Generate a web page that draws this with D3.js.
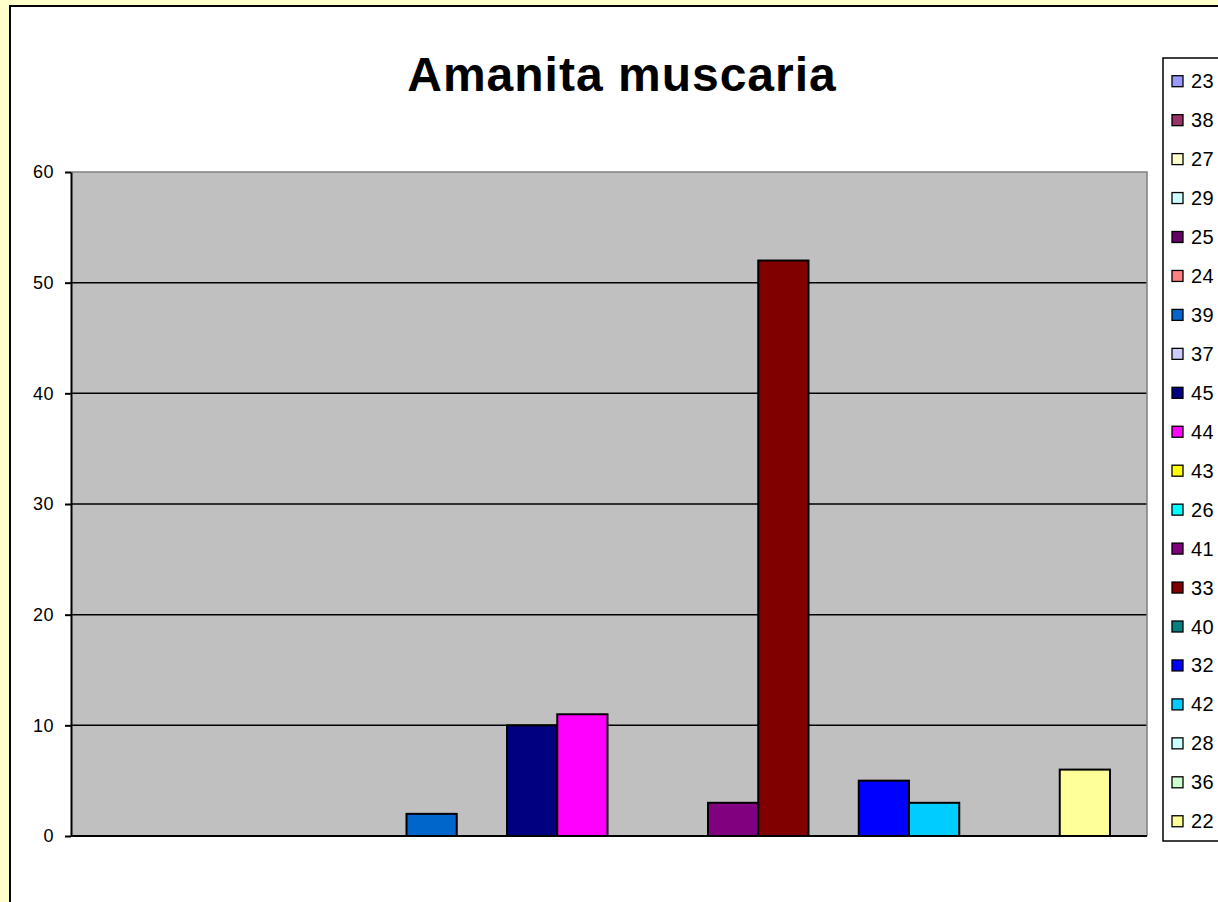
<!DOCTYPE html>
<html><head><meta charset="utf-8">
<script src="https://cdn.jsdelivr.net/npm/d3@7"></script>
<style>html,body{margin:0;padding:0;background:#FFFFCC;}svg{display:block;}</style>
</head><body>
<script>
const title = "Amanita muscaria";
const series = ["23","38","27","29","25","24","39","37","45","44","43","26","41","33","40","32","42","28","36","22"];
const values = [0,0,0,0,0,0,2,0,10,11,0,0,3,52,0,5,3,0,0,6];
const colors = ["#9999FF","#993366","#FFFFCC","#CCFFFF","#660066","#FF8080","#0066CC","#CCCCFF","#000080","#FF00FF","#FFFF00","#00FFFF","#800080","#800000","#008080","#0000FF","#00CCFF","#CCFFFF","#CCFFCC","#FFFF99"];
const yTicks = [0,10,20,30,40,50,60];

const W = 1218, H = 902;
const FONT = "Arial, 'Liberation Sans', sans-serif";
const svg = d3.select("body").append("svg").attr("width", W).attr("height", H);
svg.append("rect").attr("width", W).attr("height", H).attr("fill", "#FFFFCC");
svg.append("rect").attr("x", 10).attr("y", 6).attr("width", 1400).attr("height", 1200)
  .attr("fill", "#fff").attr("stroke", "#000").attr("stroke-width", 2);

const pl = 71, pr = 1147, pt = 172, pb = 836;
const x = d3.scaleBand().domain(series).range([pl + 34, pr - 37]).paddingInner(0).paddingOuter(0);
const y = d3.scaleLinear().domain([0, 60]).range([pb, pt]);

svg.append("rect").attr("x", pl).attr("y", pt).attr("width", pr - pl).attr("height", pb - pt).attr("fill", "#C0C0C0");
// gridlines
svg.append("g").selectAll("line").data(yTicks.filter(t => t > 0 && t < 60)).join("line")
  .attr("x1", pl).attr("x2", pr).attr("y1", d => y(d)).attr("y2", d => y(d))
  .attr("stroke", "#000").attr("stroke-width", 1.5);
// plot border top/right
svg.append("path").attr("d", `M${pl},${pt}H${pr}V${pb}`).attr("fill", "none").attr("stroke", "#808080").attr("stroke-width", 1.5);

// bars
svg.append("g").selectAll("rect").data(series.map((s, i) => ({s, v: values[i], c: colors[i]})).filter(d => d.v > 0)).join("rect")
  .attr("x", d => x(d.s)).attr("width", x.bandwidth())
  .attr("y", d => y(d.v)).attr("height", d => y(0) - y(d.v))
  .attr("fill", d => d.c).attr("stroke", "#000").attr("stroke-width", 2);

// y axis
const yAxis = d3.axisLeft(y).tickValues(yTicks).tickSize(6).tickPadding(11).tickSizeOuter(0);
const ga = svg.append("g").attr("transform", `translate(${pl},0)`).call(yAxis);
ga.select(".domain").attr("stroke", "#000").attr("stroke-width", 2);
ga.selectAll(".tick line").attr("stroke", "#000").attr("stroke-width", 2);
ga.selectAll(".tick text").attr("font-family", FONT).attr("font-size", 18).attr("letter-spacing", 0.5).attr("fill", "#000");
// x axis baseline
svg.append("line").attr("x1", pl).attr("x2", pr).attr("y1", y(0)).attr("y2", y(0)).attr("stroke", "#000").attr("stroke-width", 2);

// title
svg.append("text").attr("x", 622).attr("y", 91).attr("text-anchor", "middle")
  .attr("font-family", FONT).attr("font-weight", "bold")
  .attr("font-size", 48).attr("letter-spacing", 1).text(title);

// legend
const lx = 1163, ly = 58;
svg.append("rect").attr("x", lx).attr("y", ly).attr("width", 200).attr("height", 783)
  .attr("fill", "#fff").attr("stroke", "#000").attr("stroke-width", 1.5);
const lg = svg.append("g").selectAll("g").data(series.map((s, i) => ({s, c: colors[i], i}))).join("g")
  .attr("transform", d => `translate(${lx}, ${81.2 + d.i * 38.95})`);
lg.append("rect").attr("x", 9).attr("y", -5.5).attr("width", 11).attr("height", 11)
  .attr("fill", d => d.c).attr("stroke", "#000").attr("stroke-width", 1.3);
lg.append("text").attr("x", 28).attr("y", 7)
  .attr("font-family", FONT).attr("font-size", 20).attr("letter-spacing", 0.5).text(d => d.s);
</script>
</body></html>
